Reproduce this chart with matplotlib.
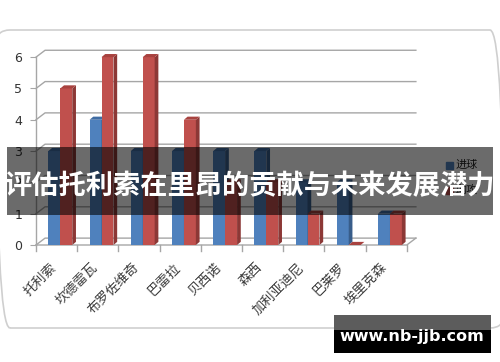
import matplotlib
matplotlib.use("Agg")
import matplotlib.pyplot as plt
from matplotlib.patches import Polygon, Rectangle, FancyBboxPatch
from matplotlib.transforms import IdentityTransform

# 数据
categories = ["托利索", "坎德雷瓦", "布罗佐维奇", "巴雷拉", "贝西诺",
              "森西", "加利亚迪尼", "巴莱罗", "埃里克森"]
goals = [3, 4, 3, 3, 3, 3, 2, 2, 1]
assists = [5, 6, 6, 4, 2, 2, 1, 0, 1]
series_names = ["进球", "助攻"]
yticks = [0, 1, 2, 3, 4, 5, 6]
title = "评估托利索在里昂的贡献与未来发展潜力"
watermark = "www.nb-jjb.com"

CJK = ["Noto Sans CJK SC", "DejaVu Sans"]

W, H = 500, 362


def fx(x):
    return x / W


def fy(y):
    return 1 - y / H


fig = plt.figure(figsize=(5, 3.62), dpi=100)
fig.patch.set_facecolor("white")

# moldura arredondada da área do gráfico
frame = FancyBboxPatch((-4, H - 328), 508, 298,
                       boxstyle="round,pad=0,rounding_size=14",
                       transform=IdentityTransform(), fill=False,
                       edgecolor="#cfcfcf", lw=1.2, zorder=0)
fig.add_artist(frame)

ax = fig.add_axes([fx(36), fy(245), 387.3 / W, 203.5 / H])
ax.set_xlim(-0.5, 8.9)
ax.set_ylim(0, 6.5)
for s in ax.spines.values():
    s.set_visible(False)
ax.patch.set_alpha(0)

n = len(categories)
dx, dy = 0.22, 0.22  # profundidade da parede de fundo
grid_c = "#a6a6a6"

# linhas de grade na parede de fundo
for v in yticks:
    ax.plot([-0.5, -0.5 + dx, n - 0.5 + dx], [v, v + dy, v + dy],
            color=grid_c, lw=1, zorder=1, clip_on=False)
# chão
ax.plot([-0.5, n - 0.5, n - 0.5 + dx], [0, 0, dy], color=grid_c, lw=1,
        zorder=1, clip_on=False)
# eixo vertical
ax.plot([-0.5, -0.5], [0, yticks[-1]], color=grid_c, lw=1, zorder=1,
        clip_on=False)
# marcas do eixo x
for i in range(n + 1):
    ax.plot([i - 0.5, i - 0.5], [0, -0.18], color=grid_c, lw=1,
            clip_on=False)

ax.set_yticks(yticks)
ax.set_yticklabels([str(v) for v in yticks], fontsize=9, color="#333333")
ax.tick_params(axis="y", length=4, color=grid_c, pad=6)
ax.set_xticks([])

# barras com efeito 3D
bw = 0.29
sdx, sdy = 0.09, 0.1
colors = [("#4f81bd", "#385d8a", "#3f6ca3"),
          ("#c0504d", "#8c3836", "#a8423f")]
offsets = [-0.2, 0.09]
for vals, off, (front, side, top) in zip([goals, assists], offsets, colors):
    xs = [i + off for i in range(n)]
    ax.bar(xs, vals, width=bw, align="edge", color=front, zorder=3,
           linewidth=0)
    for x0, v in zip(xs, vals):
        x1 = x0 + bw
        ax.add_patch(Polygon([(x1, 0), (x1 + sdx, sdy), (x1 + sdx, v + sdy),
                              (x1, v)], closed=True, color=side, lw=0,
                             zorder=3))
        ax.add_patch(Polygon([(x0, v), (x0 + sdx, v + sdy),
                              (x1 + sdx, v + sdy), (x1, v)], closed=True,
                             color=top, lw=0, zorder=3))

# rótulos das categorias
for i, lab in enumerate(categories):
    ax.text(i - 0.05, -0.65, lab, rotation=45, rotation_mode="anchor",
            ha="right", va="center", fontsize=9.5, color="#3a3a3a",
            family=CJK, clip_on=False)

# legenda
for k, (name, (front, _, _)) in enumerate(zip(series_names, colors)):
    yy = 165 + 25 * k
    fig.add_artist(Rectangle((fx(446), fy(yy + 3.5)), 7 / W, 7 / H,
                             transform=fig.transFigure, color=front, zorder=2))
    fig.text(fx(456), fy(yy), name, fontsize=8, family=CJK, color="#222222",
             ha="left", va="center", zorder=2)

# faixa do título
fig.add_artist(Rectangle((fx(7), fy(215)), 486 / W, 68 / H,
                         transform=fig.transFigure, color="black",
                         alpha=0.58, lw=0, zorder=5))
fig.text(fx(249), fy(186), title, fontsize=19.6, fontweight="bold",
         color="white", family=CJK, ha="center", va="center", zorder=6)

# marca d'água
fig.add_artist(Rectangle((fx(334), fy(330)), 157 / W, 15 / H,
                         transform=fig.transFigure, color="#5c5c5c", lw=0,
                         zorder=5))
fig.add_artist(Rectangle((fx(334), fy(353)), 157 / W, 23 / H,
                         transform=fig.transFigure, color="black", lw=0,
                         zorder=5))
fig.text(fx(412), fy(337), watermark, fontsize=11.5, fontweight="bold",
         color="white", ha="center", va="center", zorder=6)

fig.savefig("out.png", dpi=100)
